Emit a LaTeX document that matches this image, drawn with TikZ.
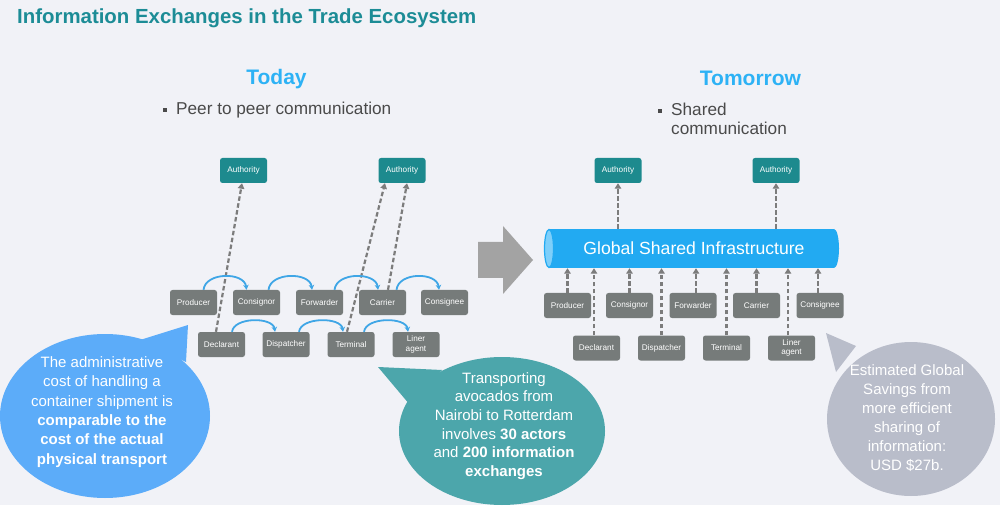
\documentclass[tikz,border=0pt]{standalone}
\usepackage{fontspec}
\setmainfont{Liberation Sans}
\usetikzlibrary{arrows.meta,calc}
\definecolor{bgc}{HTML}{F1F2F7}
\definecolor{titleteal}{HTML}{1C8C96}
\definecolor{headblue}{HTML}{2DB2F5}
\definecolor{authteal}{HTML}{1D8A8E}
\definecolor{boxgray}{HTML}{767B7A}
\definecolor{dashgray}{HTML}{7C7C7C}
\definecolor{bigarrow}{HTML}{A3A3A3}
\definecolor{cylblue}{HTML}{22AAF2}
\definecolor{cyllight}{HTML}{7ECFFA}
\definecolor{bubblue}{HTML}{5CACF9}
\definecolor{bubteal}{HTML}{4CA6AB}
\definecolor{bubgray}{HTML}{B9BDCA}
\definecolor{bodytext}{HTML}{4A4A4A}
\definecolor{arcblue}{HTML}{3FA6E6}
\begin{document}
\begin{tikzpicture}[x=1pt,y=-1pt,
  gbox/.style={fill=boxgray, rounded corners=2.5pt, minimum width=47pt, minimum height=25pt, inner sep=0pt, text=white, font=\fontsize{8.2}{9.5}\selectfont, align=center},
  abox/.style={gbox, fill=authteal},
  dasharr/.style={draw=dashgray, line width=2.2pt, dash pattern=on 4.5pt off 2.5pt, -{Triangle[length=5.5pt,width=6.5pt]}},
  arcarr/.style={draw=arcblue, line width=1.8pt, -{Stealth[length=5pt,width=5.5pt]}},
  btext/.style={text=white, align=center, font=\fontsize{15}{19.3}\selectfont},
  head/.style={text=headblue, font=\bfseries\fontsize{21}{24}\selectfont},
  bullettext/.style={text=bodytext, font=\fontsize{17.2}{19.5}\selectfont, align=left, anchor=base west, inner sep=0pt}
]
\useasboundingbox (0,0) rectangle (1000,510);
\fill[white] (0,0) rectangle (1000,510);
\fill[bgc] (0,0) rectangle (1000,505);

% title
\node[anchor=base west, inner sep=0pt, text=titleteal, font=\bfseries\fontsize{20.4}{24}\selectfont] (title) at (17,24) {Information Exchanges in the Trade Ecosystem};

% headings
\node[head, anchor=base, inner sep=0pt] (today) at (276.5,85) {Today};
\node[head, anchor=base, inner sep=0pt] (tomorrow) at (750.5,86) {Tomorrow};
\fill[bodytext] (163,108) rectangle (167,112);
\node[bullettext] (peer) at (176,115) {Peer to peer communication};
\fill[bodytext] (658,109) rectangle (662,113);
\node[bullettext] (shared) at (671,134.5) {Shared\\[-0.5pt]communication};

% ---------- Today ----------
\node[abox] (la1) at (243.5,170.5) {Authority};
\node[abox] (la2) at (402,170.5) {Authority};

\node[gbox] (lp)  at (193.5,302.5) {Producer};
\node[gbox] (lc)  at (256.5,302.5) {Consignor};
\node[gbox] (lf)  at (319.5,302.5) {Forwarder};
\node[gbox] (lca) at (382.5,302.5) {Carrier};
\node[gbox] (lco) at (444.5,302.5) {Consignee};

\node[gbox] (ld)  at (221.5,344.5) {Declarant};
\node[gbox] (ldi) at (286,344.5) {Dispatcher};
\node[gbox] (lt)  at (351,344.5) {Terminal};
\node[gbox] (ll)  at (416,344.5) {Liner\\agent};

% dashed to authorities
\draw[dasharr] ($(ld.north)+(-5.5,0)$) -- ($(la1.south)+(-1.5,0)$);
\draw[dasharr] ($(lt.north)+(-4,0)$) -- ($(la2.south)+(-17,0)$);
\draw[dasharr] ($(lca.north)+(5.5,0)$) -- ($(la2.south)+(5,0)$);

% blue arcs
\draw[arcarr] ($(lp.north)+(10,0)$) .. controls +(2,-18) and +(-2,-18) .. ($(lc.north)+(-10,0)$);
\draw[arcarr] ($(lc.north)+(12,0)$) .. controls +(2,-18) and +(-2,-18) .. ($(lf.north)+(-7.5,0)$);
\draw[arcarr] ($(lf.north)+(15,0)$) .. controls +(2,-18) and +(-2,-18) .. ($(lca.north)+(-4.5,0)$);
\draw[arcarr] ($(lca.north)+(14,0)$) .. controls +(2,-18) and +(-2,-18) .. ($(lco.north)+(-5.5,0)$);
\draw[arcarr] ($(ld.north)+(10.5,0)$) .. controls +(2,-15) and +(-2,-15) .. ($(ldi.north)+(-11,0)$);
\draw[arcarr] ($(ldi.north)+(13,0)$) .. controls +(2,-15) and +(-2,-15) .. ($(lt.north)+(-8,0)$);
\draw[arcarr] ($(lt.north)+(13,0)$) .. controls +(2,-15) and +(-2,-15) .. ($(ll.north)+(-8,0)$);

% big arrow
\fill[bigarrow] (478,242) -- (503,242) -- (503,226) -- (533,260) -- (503,294) -- (503,278) -- (478,278) -- cycle;

% ---------- Tomorrow ----------
\node[abox] (ra1) at (618,170.5) {Authority};
\node[abox] (ra2) at (776,170.5) {Authority};

% cylinder
\fill[cylblue] (549,229) rectangle (834,268);
\fill[cylblue] (834,248.5) ellipse [x radius=5, y radius=19.5];
\filldraw[fill=cyllight, draw=cylblue, line width=1.2pt] (549,248.5) ellipse [x radius=4.5, y radius=19];
\node[minimum width=290pt, minimum height=39pt, inner sep=0pt, text=white, font=\fontsize{17.6}{20}\selectfont] (gsi) at (694,248.5) {Global Shared Infrastructure};

\node[gbox] (rp)  at (567.5,305.5) {Producer};
\node[gbox] (rc)  at (629.5,305.5) {Consignor};
\node[gbox] (rf)  at (693,305.5) {Forwarder};
\node[gbox] (rca) at (756.5,305.5) {Carrier};
\node[gbox] (rco) at (820,305.5) {Consignee};

\node[gbox] (rd)  at (596.5,348) {Declarant};
\node[gbox] (rdi) at (661.5,348) {Dispatcher};
\node[gbox] (rt)  at (726.5,348) {Terminal};
\node[gbox] (rl)  at (791.5,348) {Liner\\agent};

\draw[dasharr] (gsi.north -| ra1.south) -- (ra1.south);
\draw[dasharr] (gsi.north -| ra2.south) -- (ra2.south);

\draw[dasharr] (rp.north) -- (rp.north |- gsi.south);
\draw[dasharr] (rc.north) -- (rc.north |- gsi.south);
\draw[dasharr] ($(rf.north)+(3,0)$) -- ($(rf.north |- gsi.south)+(3,0)$);
\draw[dasharr] (rca.north) -- (rca.north |- gsi.south);
\draw[dasharr] ($(rco.north)+(-2,0)$) -- ($(rco.north |- gsi.south)+(-2,0)$);
\draw[dasharr] ($(rd.north)+(-2.5,0)$) -- ($(rd.north |- gsi.south)+(-2.5,0)$);
\draw[dasharr] (rdi.north) -- (rdi.north |- gsi.south);
\draw[dasharr] (rt.north) -- (rt.north |- gsi.south);
\draw[dasharr] ($(rl.north)+(-3.5,0)$) -- ($(rl.north |- gsi.south)+(-3.5,0)$);

% ---------- bubbles ----------
\fill[bubblue] (105,416) ellipse [x radius=105, y radius=82];
\fill[bubblue] (188,325) -- (140,340) -- (186,362) -- cycle;
\node[btext] (bub1) at (102,412) {The administrative\\cost of handling a\\container shipment is\\\textbf{comparable to the}\\\textbf{cost of the actual}\\\textbf{physical transport}};

\fill[bubteal] (502,431) ellipse [x radius=103, y radius=74];
\fill[bubteal] (378,367) -- (442,370) -- (410,405) -- cycle;
\node[btext, font=\fontsize{15}{18.6}\selectfont] (bub2) at (504,426) {Transporting\\avocados from\\Nairobi to Rotterdam\\involves \textbf{30 actors}\\and \textbf{200 information}\\\textbf{exchanges}};

\fill[bubgray] (911,419) ellipse [x radius=84, y radius=77];
\fill[bubgray] (826,333) -- (856,346) -- (836,372) -- cycle;
\node[btext, font=\fontsize{15}{19}\selectfont] (bub3) at (907,418) {Estimated Global\\Savings from\\more efficient\\sharing of\\information:\\USD \$27b.};
\end{tikzpicture}
\end{document}
